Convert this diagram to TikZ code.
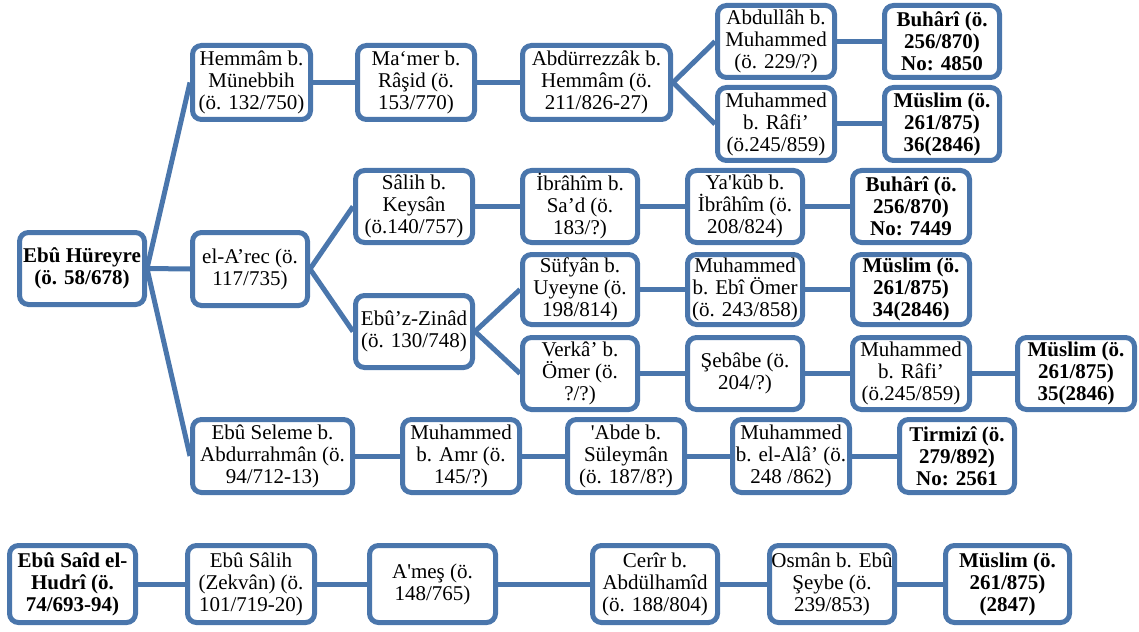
\documentclass[tikz,border=0pt]{standalone}
\usepackage{fontspec}
\setmainfont{Liberation Serif}[Ligatures=TeXOff]
\definecolor{bl}{RGB}{74,118,172}
\begin{document}
\begin{tikzpicture}[x=1pt,y=-1pt,
  box/.style={draw=bl, line width=5pt, rounded corners=9pt, fill=white, align=center, inner sep=0pt, font=\fontsize{21}{22}\selectfont},
  bbox/.style={box, font=\fontsize{21}{22}\selectfont\bfseries},
  conn/.style={draw=bl, line width=5pt}]
\useasboundingbox (0,0) rectangle (1139,631);
% tree
\node[bbox, minimum width=125pt, minimum height=72pt] (hur) at (82,268.5) {Ebû Hüreyre\\(ö. 58/678)};
\node[box, minimum width=118pt, minimum height=74pt] (hem) at (251.5,82.5) {Hemmâm b.\\Münebbih\\(ö. 132/750)};
\node[box, minimum width=115pt, minimum height=73pt] (arec) at (250,269) {el-A’rec (ö.\\117/735)};
\node[box, minimum width=160pt, minimum height=73pt] (sel) at (272.5,456) {Ebû Seleme b.\\Abdurrahmân (ö.\\94/712-13)};
\node[box, minimum width=117pt, minimum height=74pt] (mamer) at (416,82.5) {Ma‘mer b.\\Râşid (ö.\\153/770)};
\node[box, minimum width=148pt, minimum height=74pt] (abdr) at (596.5,82.5) {Abdürrezzâk b.\\Hemmâm (ö.\\211/826-27)};
\node[box, minimum width=117pt, minimum height=72pt] (abdl) at (776,41.5) {Abdullâh b.\\Muhammed\\(ö. 229/?)};
\node[bbox, minimum width=115pt, minimum height=72pt] (buhA) at (942,41.5) {Buhârî (ö.\\256/870)\\No: 4850};
\node[box, minimum width=117pt, minimum height=73pt] (rafA) at (776,124) {Muhammed\\b. Râfi’\\(ö.245/859)};
\node[bbox, minimum width=115pt, minimum height=73pt] (musA) at (942,124) {Müslim (ö.\\261/875)\\36(2846)};
\node[box, minimum width=117pt, minimum height=72pt] (salih) at (414,206.5) {Sâlih b.\\Keysân\\(ö.140/757)};
\node[box, minimum width=115pt, minimum height=72pt] (ibr) at (580,206.5) {İbrâhîm b.\\Sa’d (ö.\\183/?)};
\node[box, minimum width=115pt, minimum height=72pt] (yak) at (745,206.5) {Ya'kûb b.\\İbrâhîm (ö.\\208/824)};
\node[bbox, minimum width=117pt, minimum height=72pt] (buhB) at (911,206.5) {Buhârî (ö.\\256/870)\\No: 7449};
\node[box, minimum width=117pt, minimum height=72pt] (zin) at (414,331.5) {Ebû’z-Zinâd\\(ö. 130/748)};
\node[box, minimum width=115pt, minimum height=70pt] (suf) at (580,289.5) {Süfyân b.\\Uyeyne (ö.\\198/814)};
\node[box, minimum width=115pt, minimum height=72pt] (ver) at (580,373.5) {Verkâ’ b.\\Ömer (ö.\\?/?)};
\node[box, minimum width=115pt, minimum height=70pt] (ebi) at (745,289.5) {Muhammed\\b. Ebî Ömer\\(ö. 243/858)};
\node[bbox, minimum width=117pt, minimum height=70pt] (musB) at (911,289.5) {Müslim (ö.\\261/875)\\34(2846)};
\node[box, minimum width=115pt, minimum height=72pt] (seb) at (745,373.5) {Şebâbe (ö.\\204/?)};
\node[box, minimum width=117pt, minimum height=72pt] (rafB) at (911,373.5) {Muhammed\\b. Râfi’\\(ö.245/859)};
\node[bbox, minimum width=117pt, minimum height=72pt] (musC) at (1076,373.5) {Müslim (ö.\\261/875)\\35(2846)};
\node[box, minimum width=117pt, minimum height=73pt] (amr) at (461,456) {Muhammed\\b. Amr (ö.\\145/?)};
\node[box, minimum width=117pt, minimum height=73pt] (abde) at (626,456) {'Abde b.\\Süleymân\\(ö. 187/8?)};
\node[box, minimum width=117pt, minimum height=73pt] (ala) at (791,456) {Muhammed\\b. el-Alâ’ (ö.\\248 /862)};
\node[bbox, minimum width=115pt, minimum height=73pt] (tir) at (957,456) {Tirmizî (ö.\\279/892)\\No: 2561};
% bottom row
\node[bbox, minimum width=126pt, minimum height=77pt] (said) at (72.5,584) {Ebû Saîd el-\\Hudrî (ö.\\74/693-94)};
\node[box, minimum width=127pt, minimum height=77pt] (esal) at (251,584) {Ebû Sâlih\\(Zekvân) (ö.\\101/719-20)};
\node[box, minimum width=126pt, minimum height=77pt] (ames) at (432.5,584) {A'meş (ö.\\148/765)};
\node[box, minimum width=125pt, minimum height=77pt] (cer) at (655,584) {Cerîr b.\\Abdülhamîd\\(ö. 188/804)};
\node[box, minimum width=125pt, minimum height=77pt] (osm) at (832,584) {Osmân b. Ebû\\Şeybe (ö.\\239/853)};
\node[bbox, minimum width=124pt, minimum height=77pt] (musD) at (1007.5,584) {Müslim (ö.\\261/875)\\(2847)};
% connectors
\draw[conn] (hur.east) -- (hem.west);
\draw[conn] (hur.east) -- (arec.west);
\draw[conn] (hur.east) -- (sel.west);
\draw[conn] (hem.east) -- (mamer.west);
\draw[conn] (mamer.east) -- (abdr.west);
\draw[conn] (abdr.east) -- (abdl.west);
\draw[conn] (abdr.east) -- (rafA.west);
\draw[conn] (abdl.east) -- (buhA.west);
\draw[conn] (rafA.east) -- (musA.west);
\draw[conn] (arec.east) -- (salih.west);
\draw[conn] (arec.east) -- (zin.west);
\draw[conn] (salih.east) -- (ibr.west);
\draw[conn] (ibr.east) -- (yak.west);
\draw[conn] (yak.east) -- (buhB.west);
\draw[conn] (zin.east) -- (suf.west);
\draw[conn] (zin.east) -- (ver.west);
\draw[conn] (suf.east) -- (ebi.west);
\draw[conn] (ebi.east) -- (musB.west);
\draw[conn] (ver.east) -- (seb.west);
\draw[conn] (seb.east) -- (rafB.west);
\draw[conn] (rafB.east) -- (musC.west);
\draw[conn] (sel.east) -- (amr.west);
\draw[conn] (amr.east) -- (abde.west);
\draw[conn] (abde.east) -- (ala.west);
\draw[conn] (ala.east) -- (tir.west);
\draw[conn] (said.east) -- (esal.west);
\draw[conn] (esal.east) -- (ames.west);
\draw[conn] (ames.east) -- (cer.west);
\draw[conn] (cer.east) -- (osm.west);
\draw[conn] (osm.east) -- (musD.west);
\end{tikzpicture}
\end{document}
